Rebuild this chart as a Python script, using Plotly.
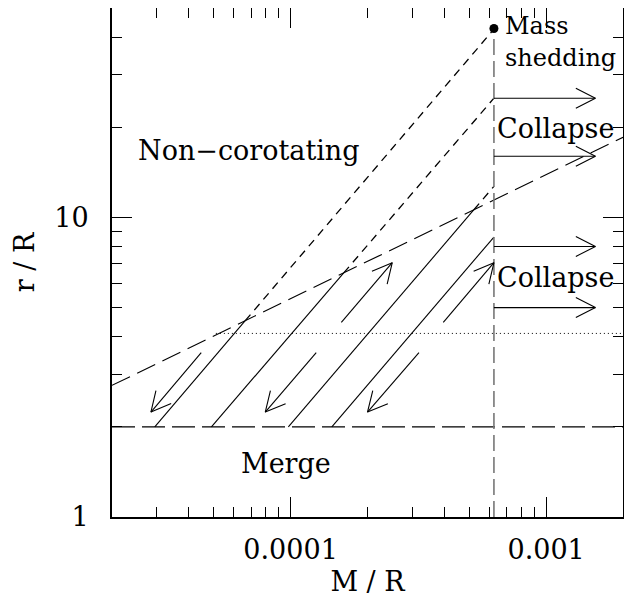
import numpy as np
import plotly.graph_objects as go

# ---------------- data ----------------
# evolutionary tracks: M/R where r/R = 2 (merge line) and r/R at the mass-shedding M/R
track_x_start = [2.94e-5, 4.9e-5, 9.8e-5, 1.45e-4]
track_r_end = [42.5, 25.0, 12.7, 8.6]
merge_r = 2.0
shed_x = 6.25e-4
shed_point_x = [6.25e-4]
shed_point_r = [42.7]

# corotation boundary (long-dashed)
corot_x = [2e-5, 2e-3]
corot_r = [2.75, 18.5]

# dotted horizontal line
dot_x = [5.1e-5, 2e-3]
dot_r = [4.1, 4.1]

# collapse arrows
collapse_r = [25.0, 16.0, 8.0, 5.0]
collapse_x0 = 6.25e-4
collapse_x1 = 1.56e-3

# diagonal arrows (tail -> head)
down_tail_x = [4.47e-5, 1.26e-4, 3.18e-4]
down_head_x = [2.84e-5, 7.96e-5, 2.0e-4]
down_tail_r = 3.54
down_head_r = 2.24
up_tail_x = [1.58e-4, 3.96e-4]
up_head_x = [2.50e-4, 6.25e-4]
up_tail_r = 4.46
up_head_r = 7.06

x_range = [2e-5, 2e-3]
y_range = [1, 50]
x_major = [1e-4, 1e-3]
x_major_text = ["0.0001", "0.001"]
y_major = [1, 10]
y_major_text = ["1", "10"]

# ---------------- figure ----------------
FONT = "DejaVu Serif"
FS = 27
W, H = 624, 595
M_L, M_R, M_T, M_B = 104, 9, 0, 86
L = np.log10
fig = go.Figure()

# pixels per decade (for arrowhead geometry)
SX = (W - M_L - M_R) / (L(x_range[1]) - L(x_range[0]))
SY = (H - M_T - M_B) / (L(y_range[1]) - L(y_range[0]))

def seg_cross(x0, y0, x1, y1, cx, cy):
    a0, b0, a1, b1 = L(x0), L(y0), L(x1), L(y1)
    c0, d0, c1, d1 = L(cx[0]), L(cy[0]), L(cx[1]), L(cy[1])
    m1 = (b1 - b0) / (a1 - a0)
    m2 = (d1 - d0) / (c1 - c0)
    xa = (d0 - m2 * c0 - b0 + m1 * a0) / (m1 - m2)
    ya = b0 + m1 * (xa - a0)
    return 10 ** xa, 10 ** ya

for xs, re in zip(track_x_start, track_r_end):
    xc, yc = seg_cross(xs, merge_r, shed_x, re, corot_x, corot_r)
    if xc < shed_x:
        fig.add_trace(go.Scatter(x=[xs, xc], y=[merge_r, yc], mode="lines",
                                 line=dict(color="black", width=1.1), showlegend=False))
        fig.add_trace(go.Scatter(x=[xc, shed_x], y=[yc, re], mode="lines",
                                 line=dict(color="black", width=1.3, dash="8px,6px"), showlegend=False))
    else:
        fig.add_trace(go.Scatter(x=[xs, shed_x], y=[merge_r, re], mode="lines",
                                 line=dict(color="black", width=1.1), showlegend=False))

# corotation line
fig.add_trace(go.Scatter(x=corot_x, y=corot_r, mode="lines",
                         line=dict(color="black", width=1.1, dash="20px,8px"), showlegend=False))
# merge line
fig.add_trace(go.Scatter(x=x_range, y=[merge_r, merge_r], mode="lines",
                         line=dict(color="black", width=1.3, dash="23px,7px"), showlegend=False))
# dotted line
fig.add_trace(go.Scatter(x=dot_x, y=dot_r, mode="lines",
                         line=dict(color="black", width=1, dash="1px,3px"), showlegend=False))
# mass-shedding vertical
fig.add_trace(go.Scatter(x=[shed_x, shed_x], y=[y_range[0], shed_point_r[0] * 0.95], mode="lines",
                         line=dict(color="#777777", width=1.6, dash="16px,6px"), showlegend=False))
# mass-shedding point
fig.add_trace(go.Scatter(x=shed_point_x, y=shed_point_r, mode="markers",
                         marker=dict(color="black", size=9), showlegend=False))

# arrows: shaft + open V head drawn as lines
arrows = []
for r in collapse_r:
    arrows.append((collapse_x0, r, collapse_x1, r))
for tx, hx in zip(down_tail_x, down_head_x):
    arrows.append((tx, down_tail_r, hx, down_head_r))
for tx, hx in zip(up_tail_x, up_head_x):
    arrows.append((tx, up_tail_r, hx, up_head_r))

HEAD_LEN = 22.0
HEAD_ANG = np.radians(27)
ax_, ay_ = [], []
for tx, ty, hx, hy in arrows:
    ltx, lty, lhx, lhy = L(tx), L(ty), L(hx), L(hy)
    dx, dy = (ltx - lhx) * SX, (lty - lhy) * SY
    n = np.hypot(dx, dy)
    ux, uy = dx / n, dy / n
    wings = []
    for s in (1, -1):
        c, si = np.cos(s * HEAD_ANG), np.sin(s * HEAD_ANG)
        wx, wy = (ux * c - uy * si) * HEAD_LEN, (ux * si + uy * c) * HEAD_LEN
        wings.append((10 ** (lhx + wx / SX), 10 ** (lhy + wy / SY)))
    ax_ += [tx, hx, None, wings[0][0], hx, wings[1][0], None]
    ay_ += [ty, hy, None, wings[0][1], hy, wings[1][1], None]
fig.add_trace(go.Scatter(x=ax_, y=ay_, mode="lines", line=dict(color="black", width=1.1),
                         showlegend=False, connectgaps=False))

# labels
def label(text, x, y, size=FS):
    fig.add_annotation(x=L(x), y=L(y), xref="x", yref="y", text=text, showarrow=False,
                       xanchor="left", yanchor="middle",
                       font=dict(family=FONT, size=size, color="black"))

label("Non\u2212corotating", 2.48e-5, 16.7)
label("Merge", 6.3e-5, 1.51)
label("Collapse", 6.3e-4, 19.85)
label("Collapse", 6.3e-4, 6.3)
label("Mass", 6.79e-4, 43.5, 24)
label("shedding", 6.79e-4, 34.0, 24)

x_minor = [m * 10.0 ** e for e in (-5, -4, -3) for m in range(2, 10)]
x_minor = [v for v in x_minor if x_range[0] <= v <= x_range[1] and v not in x_major]
y_minor = [m * 10.0 ** e for e in (0, 1) for m in range(2, 10)]
y_minor = [v for v in y_minor if y_range[0] <= v <= y_range[1]]

axis_common = dict(type="log", showgrid=False, zeroline=False, showline=True, linecolor="black",
                   linewidth=2, mirror="ticks", ticks="inside", ticklen=20, tickwidth=1,
                   tickcolor="black", tickmode="array", automargin=False,
                   tickfont=dict(family=FONT, size=FS, color="black"),
                   title_font=dict(family=FONT, size=FS, color="black"))

fig.update_xaxes(**axis_common, range=[L(x_range[0]), L(x_range[1])],
                 tickvals=x_major, ticktext=x_major_text, ticklabelstandoff=8,
                 minor=dict(tickmode="array", tickvals=x_minor, ticks="inside", ticklen=10,
                            tickwidth=1, tickcolor="black", showgrid=False),
                 title=dict(text="M / R", standoff=8))
fig.update_yaxes(**axis_common, range=[L(y_range[0]), L(y_range[1])],
                 tickvals=y_major, ticktext=y_major_text, ticklabelstandoff=16,
                 minor=dict(tickmode="array", tickvals=y_minor, ticks="inside", ticklen=10,
                            tickwidth=1, tickcolor="black", showgrid=False),
                 title=dict(text="r / R", standoff=12))

fig.update_layout(width=W, height=H, margin=dict(l=M_L, r=M_R, t=M_T, b=M_B),
                  plot_bgcolor="white", paper_bgcolor="white", showlegend=False)
fig.write_html("out.html")
